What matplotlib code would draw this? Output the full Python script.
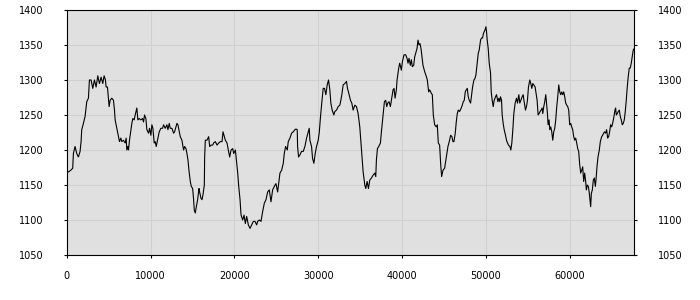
import matplotlib
matplotlib.use("Agg")
import matplotlib.pyplot as plt

x_vals = [
    0, 478, 717, 797, 996, 1195, 1394, 1594, 1713, 1793, 1992, 2191, 2390, 2590, 2709, 2908,
    3108, 3307, 3506, 3705, 3904, 4104, 4303, 4462, 4621, 4701, 4860, 4980, 5060, 5179, 5378,
    5578, 5697, 5777, 5976, 6175, 6295, 6454, 6574, 6773, 6972, 7092, 7171, 7291, 7370, 7490,
    7570, 7769, 7888, 8048, 8167, 8366, 8486, 8645, 8844, 9044, 9163, 9283, 9442, 9562, 9761,
    9880, 10040, 10159, 10279, 10438, 10558, 10677, 10836, 11036, 11235, 11434, 11554, 11753,
    11952, 12072, 12231, 12350, 12550, 12749, 12868, 13028, 13147, 13267, 13426, 13546, 13745,
    13864, 13944, 14064, 14223, 14342, 14462, 14581, 14741, 14860, 15020, 15139, 15219, 15338,
    15458, 15617, 15777, 15856, 16016, 16135, 16255, 16414, 16454, 16534, 16733, 16932, 17052,
    17211, 17410, 17530, 17729, 17928, 18127, 18326, 18526, 18645, 18804, 18924, 19123, 19243,
    19442, 19602, 19801, 19920, 20120, 20239, 20398, 20518, 20675, 20794, 20992, 21151, 21309,
    21468, 21667, 21865, 22063, 22262, 22460, 22659, 22778, 22976, 23174, 23373, 23571, 23770,
    23968, 24166, 24365, 24563, 24762, 24960, 25158, 25277, 25436, 25635, 25833, 25952, 26111,
    26309, 26428, 26627, 26825, 27023, 27222, 27341, 27500, 27539, 27658, 27817, 28015, 28214,
    28412, 28611, 28809, 28928, 29007, 29206, 29325, 29484, 29642, 29801, 29999, 30118, 30277,
    30436, 30595, 30753, 30912, 31071, 31229, 31388, 31507, 31666, 31864, 31983, 32182, 32380,
    32579, 32698, 32817, 32975, 33174, 33372, 33491, 33690, 33848, 34007, 34166, 34364, 34563,
    34761, 34959, 35078, 35237, 35356, 35555, 35674, 35832, 35991, 36150, 36348, 36547, 36745,
    36864, 36943, 37062, 37221, 37420, 37539, 37737, 37896, 38054, 38173, 38292, 38451, 38610,
    38729, 38927, 39046, 39165, 39324, 39404, 39602, 39721, 39919, 40038, 40237, 40435, 40594,
    40713, 40832, 40991, 41110, 41229, 41388, 41507, 41626, 41785, 41904, 42022, 42141, 42260,
    42379, 42499, 42697, 42895, 43014, 43173, 43292, 43491, 43610, 43729, 43888, 44086, 44205,
    44324, 44483, 44602, 44721, 44880, 45078, 45276, 45475, 45673, 45792, 45951, 46070, 46189,
    46348, 46467, 46586, 46705, 46864, 47064, 47183, 47302, 47421, 47540, 47659, 47778, 47897,
    48016, 48175, 48294, 48413, 48572, 48691, 48810, 48968, 49087, 49206, 49365, 49484, 49603,
    49722, 49881, 50000, 50079, 50159, 50278, 50397, 50556, 50635, 50754, 50873, 50992, 51151,
    51270, 51428, 51548, 51667, 51746, 51865, 51944, 52063, 52182, 52341, 52460, 52579, 52698,
    52857, 52976, 53095, 53214, 53333, 53492, 53651, 53770, 53928, 54047, 54166, 54325, 54444,
    54563, 54722, 54841, 54960, 55079, 55238, 55357, 55476, 55595, 55714, 55873, 55992, 56111,
    56230, 56349, 56468, 56587, 56706, 56786, 56904, 57023, 57142, 57222, 57341, 57420, 57539,
    57618, 57738, 57857, 57976, 58095, 58214, 58333, 58452, 58571, 58690, 58809, 58928, 59047,
    59166, 59285, 59404, 59523, 59642, 59761, 59880, 59999, 60118, 60237, 60356, 60476, 60595,
    60714, 60833, 60952, 61071, 61190, 61309, 61428, 61547, 61666, 61785, 61904, 61983, 62102,
    62221, 62340, 62420, 62499, 62578, 62697, 62816, 62935, 63054, 63134, 63253, 63372, 63531,
    63650, 63809, 63928, 64047, 64166, 64285, 64404, 64523, 64642, 64761, 64880, 64999, 65118,
    65237, 65396, 65475, 65555, 65674, 65793, 65912, 66031, 66150, 66269, 66388, 66507, 66626,
    66745, 66864, 66983, 67102, 67221, 67340, 67459, 67578, 67697,
]

y_vals = [
    1167, 1171, 1174, 1195, 1205, 1195, 1190, 1198, 1212, 1229, 1238, 1248, 1269, 1274, 1300, 1300,
    1288, 1300, 1290, 1306, 1295, 1304, 1295, 1306, 1300, 1290, 1290, 1274, 1262, 1271, 1274,
    1271, 1257, 1243, 1231, 1219, 1212, 1217, 1212, 1214, 1210, 1217, 1200, 1205, 1200, 1214,
    1221, 1238, 1245, 1243, 1250, 1260, 1243, 1245, 1243, 1245, 1240, 1250, 1245, 1229, 1224,
    1231, 1221, 1236, 1231, 1210, 1212, 1205, 1214, 1226, 1231, 1231, 1236, 1231,
    1236, 1229, 1238, 1231, 1231, 1224, 1226, 1233, 1238, 1236, 1226, 1219, 1214,
    1205, 1200, 1205, 1202, 1195, 1186, 1171, 1155, 1148, 1145, 1129, 1114, 1110,
    1119, 1129, 1145, 1140, 1131, 1129, 1136, 1150, 1190, 1214, 1214, 1219, 1205,
    1207, 1207, 1210, 1212, 1207, 1210, 1212, 1212, 1226, 1219, 1214, 1210, 1202,
    1190, 1200, 1202, 1195, 1200, 1186, 1167, 1148, 1129, 1107, 1100, 1107, 1095,
    1105, 1093, 1088, 1093, 1098, 1098, 1093, 1098, 1100, 1098, 1112, 1124, 1129,
    1140, 1143, 1126, 1143, 1148, 1152, 1140, 1152, 1167, 1171, 1181, 1195, 1205,
    1200, 1212, 1217, 1224, 1226, 1229, 1230, 1229, 1205, 1190, 1193, 1198, 1198,
    1205, 1217, 1226, 1231, 1214, 1205, 1188, 1181, 1195, 1205, 1214, 1224, 1248,
    1269, 1288, 1288, 1279, 1293, 1300, 1286, 1267, 1257, 1250, 1255, 1257, 1262,
    1264, 1271, 1279, 1293, 1295, 1298, 1288, 1279, 1271, 1267, 1257, 1264, 1262,
    1252, 1233, 1214, 1190, 1169, 1150, 1145, 1155, 1145, 1157, 1160, 1164, 1167,
    1162, 1186, 1202, 1205, 1210, 1226, 1250, 1269, 1271, 1262, 1267, 1269, 1262,
    1271, 1286, 1288, 1274, 1286, 1300, 1317, 1324, 1314, 1326, 1336, 1336, 1331,
    1324, 1331, 1321, 1329, 1319, 1321, 1333, 1338, 1345, 1357, 1350, 1352, 1345,
    1333, 1321, 1312, 1305, 1300, 1283, 1286, 1281, 1279, 1250, 1236, 1233, 1236,
    1210, 1207, 1181, 1162, 1171, 1174, 1190, 1205, 1214, 1221, 1219, 1212, 1212,
    1224, 1240, 1252, 1257, 1255, 1260, 1264, 1269, 1271, 1283, 1286, 1288, 1276,
    1271, 1267, 1279, 1290, 1300, 1302, 1307, 1324, 1338, 1343, 1357, 1360, 1360,
    1367, 1371, 1376, 1369, 1357, 1345, 1324, 1310, 1283, 1271, 1262, 1271, 1276,
    1279, 1269, 1274, 1269, 1276, 1271, 1250, 1238, 1229, 1221, 1214, 1210, 1207,
    1205, 1200, 1210, 1229, 1252, 1267, 1274, 1267, 1279, 1267, 1271, 1276, 1279,
    1269, 1257, 1262, 1271, 1290, 1300, 1295, 1288, 1295, 1293, 1290, 1281, 1271,
    1250, 1252, 1255, 1257, 1260, 1252, 1262, 1269, 1279, 1269, 1252, 1236, 1243,
    1229, 1233, 1226, 1214, 1226, 1231, 1243, 1262, 1276, 1293, 1283, 1279, 1283,
    1279, 1283, 1276, 1267, 1264, 1262, 1257, 1236, 1238, 1233, 1229, 1219, 1214,
    1217, 1210, 1202, 1198, 1179, 1167, 1171, 1176, 1155, 1167, 1155, 1143, 1150,
    1148, 1138, 1129, 1119, 1138, 1143, 1157, 1160, 1148, 1157, 1176, 1190, 1200,
    1212, 1219, 1221, 1224, 1226, 1224, 1229, 1217, 1219, 1226, 1236, 1233, 1238,
    1245, 1257, 1260, 1250, 1252, 1255, 1257, 1248, 1243, 1236, 1238, 1243, 1255,
    1271, 1290, 1305, 1317, 1317, 1324, 1333, 1343, 1345,
]

x_ticks = [0, 10000, 20000, 30000, 40000, 50000, 60000]
y_ticks = [1050, 1100, 1150, 1200, 1250, 1300, 1350, 1400]

fig = plt.figure(figsize=(7, 3), dpi=100)
ax = fig.add_axes([0.0953, 0.15, 0.8108, 0.8167])
ax.set_facecolor("#e0e0e0")
ax.plot(x_vals, y_vals, color="black", lw=0.8)

ax.set_xlim(0, 67700)
ax.set_ylim(1050, 1400)
ax.set_xticks(x_ticks)
ax.set_xticklabels([str(t) for t in x_ticks])
ax.set_yticks(y_ticks)
ax.set_yticklabels([str(t) for t in y_ticks])
ax.grid(True, color="#d0d0d0", lw=0.8)
ax.set_axisbelow(True)

for s in ax.spines.values():
    s.set_color("black")
    s.set_linewidth(0.8)

ax.tick_params(axis="y", which="both", left=True, right=True, labelleft=True,
               labelright=True, direction="out", length=2.2, width=0.8, pad=14.5,
               labelsize=7, colors="black")
ax.tick_params(axis="x", direction="out", length=2.2, width=0.8, pad=9,
               labelsize=7, colors="black")

fig.savefig("out.png", dpi=100, facecolor="white")
